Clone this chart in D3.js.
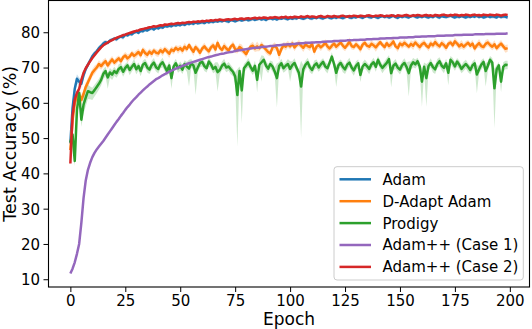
<!DOCTYPE html>
<html><head><meta charset="utf-8">
<script src="https://cdn.jsdelivr.net/npm/d3@7"></script>
<style>
html,body{margin:0;padding:0;background:#fff;}
svg{display:block;font-family:"DejaVu Sans",sans-serif;}
</style></head>
<body>
<svg id="chart" width="532" height="329"></svg>
<script>
const seriesNames = ["Adam","D-Adapt Adam","Prodigy","Adam++ (Case 1)","Adam++ (Case 2)"];
const xTicks = [0,25,50,75,100,125,150,175,200];
const yTicks = [10,20,30,40,50,60,70,80];

const adam = [
48.5,58.5,64.0,66.8,66.0,65.4,67.8,69.6,70.8,72.0,73.2,74.0,74.6,75.5,76.1,76.8,77.2,77.0,77.6,77.9,
78.2,78.0,78.5,78.8,78.6,79.3,79.1,79.6,79.4,79.9,80.2,79.8,80.4,80.3,80.7,80.5,80.9,81.2,80.8,81.3,
81.1,81.5,81.3,81.8,81.6,81.9,81.7,82.1,81.9,82.2,82.0,82.3,82.1,82.5,82.3,82.6,82.4,82.8,82.5,82.7,
82.9,82.6,83.0,82.8,83.1,82.9,83.2,83.0,83.3,83.1,83.4,83.2,83.0,83.5,83.3,83.1,83.4,83.6,83.3,83.5,
83.7,83.4,83.6,83.8,83.5,83.7,83.9,83.6,83.8,83.5,83.9,84.0,83.7,83.9,83.6,84.0,83.8,84.1,83.9,83.7,
84.0,83.8,84.1,83.9,84.2,84.0,83.8,84.1,84.3,84.0,83.9,84.2,84.0,84.3,84.1,83.9,84.2,84.4,84.1,84.0,
84.3,84.1,84.4,84.2,84.0,84.3,84.5,84.2,84.1,84.4,84.2,84.5,84.3,84.1,84.4,84.6,84.3,84.2,84.5,84.3,
84.1,84.4,84.6,84.3,84.5,84.2,84.4,84.7,84.3,84.1,84.5,84.3,84.6,84.4,84.2,84.5,84.7,84.4,84.2,84.5,
84.3,84.6,84.4,84.2,84.5,84.3,84.7,84.4,84.2,84.6,84.4,84.3,84.5,84.7,84.4,84.2,84.5,84.3,84.6,84.4,
84.2,84.5,84.3,84.6,84.4,84.7,84.3,84.5,84.2,84.4,84.6,84.3,84.5,84.4,84.2,84.6,84.3,84.5,84.4,84.2];
const adamSd = [
1.5,2.0,1.6,1.3,1.2,1.1,1.0,0.9,0.9,0.8,0.8,0.7,0.7,0.7,0.6,0.7,0.6,0.6,0.6,0.5,
.5,.6,.4,.5,.7,.5,.4,.6,.5,.5,.6,.4,.5,.6,.5,.4,.5,.6,.5,.4,
.5,.6,.5,.4,.5,.6,.4,.5,.5,.6,.5,.4,.6,.5,.4,.5,.6,.5,.4,.5,
.6,.5,.4,.5,.6,.5,.5,.4,.6,.5,.4,.5,.6,.5,.4,.5,.5,.6,.4,.5,
.5,.4,.6,.5,.5,.4,.6,.5,.4,.5,.6,.5,.4,.5,.5,.6,.4,.5,.6,.5,
.4,.5,.6,.5,.4,.5,.5,.6,.4,.5,.6,.5,.4,.5,.6,.5,.5,.4,.6,.5,
.5,.6,.4,.5,.5,.6,.4,.5,.6,.5,.4,.5,.5,.6,.4,.5,.6,.5,.4,.5,
.6,.5,.4,.5,.6,.5,.4,.5,.5,.6,.4,.5,.6,.5,.5,.4,.6,.5,.4,.5,
.5,.4,.6,.5,.5,.6,.4,.5,.6,.5,.4,.5,.5,.6,.4,.5,.6,.5,.4,.5,
.5,.6,.4,.5,.6,.5,.4,.5,.5,.6,.4,.5,.6,.5,.4,.5,.5,.6,.4,.5];

const dadapt = [
46.6,55.0,60.0,62.0,62.3,60.8,62.5,64.5,65.8,67.2,68.5,69.3,70.0,71.0,70.4,71.2,71.8,70.6,71.5,72.3,
71.4,72.0,72.6,71.8,72.9,73.4,72.6,73.1,74.0,73.3,73.8,74.4,73.5,75.0,74.1,73.6,74.5,73.9,74.8,74.2,
74.0,74.9,74.3,75.2,74.6,73.9,75.1,74.7,75.6,75.0,75.5,74.8,75.9,75.2,76.4,75.3,74.5,75.8,75.1,74.2,
75.4,76.0,75.2,74.6,75.7,76.3,75.1,77.0,75.6,75.0,76.1,75.4,74.8,75.9,76.5,75.2,74.9,75.8,75.3,74.5,
73.8,75.0,75.9,76.2,75.4,76.0,75.5,76.4,75.8,75.1,74.4,74.0,75.7,76.1,75.5,73.6,75.2,76.3,75.9,76.6,
76.0,76.8,75.7,76.4,76.9,76.2,75.6,76.5,76.1,75.8,76.7,74.5,75.9,76.4,75.7,76.3,77.0,76.0,75.4,76.2,
76.8,75.9,76.5,77.1,76.2,75.6,76.4,77.3,76.1,75.8,76.6,76.0,75.2,76.5,77.0,76.2,75.9,76.7,76.3,75.7,
76.5,77.2,76.4,75.8,76.9,76.1,76.6,77.4,76.0,75.5,76.8,76.3,77.0,76.5,75.9,76.7,76.2,77.1,76.4,75.8,
76.6,77.0,76.2,75.7,76.8,76.3,77.2,76.5,76.0,76.9,76.4,75.6,76.7,77.1,76.3,77.4,76.8,76.0,76.6,75.9,
76.5,77.0,76.2,76.8,75.4,76.3,76.9,76.1,75.8,76.7,77.1,76.4,75.9,76.6,75.5,76.2,76.8,76.0,75.3,75.5];
const dadaptSd = [
1.5,2.2,1.8,1.5,1.6,1.4,1.3,1.3,1.2,1.2,1.1,1.2,1.0,1.1,1.0,1.1,1.0,1.0,1.1,1.0,
.9,1.0,.8,1.1,.9,1.0,1.2,.9,.8,1.0,1.1,.9,1.0,.8,1.2,1.0,.9,1.1,.8,1.0,
1.0,.9,1.1,.8,1.0,1.2,.9,1.0,.8,1.1,.9,1.0,1.1,.9,.8,1.0,1.2,.9,1.0,1.1,
.9,1.0,.8,1.1,1.0,.9,1.2,1.0,.8,.9,1.1,1.0,.9,.8,1.0,1.1,.9,1.0,1.2,.9,
1.0,.8,.9,1.1,1.0,1.4,.9,1.0,.8,1.1,1.0,.9,1.0,1.1,.8,1.6,1.0,.9,1.1,1.0,
.9,1.0,1.1,.8,1.0,.9,1.2,1.0,.9,1.1,.8,1.0,.9,1.1,1.0,.8,1.0,1.2,.9,1.0,
1.1,.9,1.0,.8,1.1,1.0,.9,1.2,1.0,.8,1.0,.9,1.1,1.0,.9,.8,1.1,1.0,.9,1.2,
1.0,.9,.8,1.1,1.0,.9,1.2,1.0,.8,1.1,.9,1.0,1.1,.9,.8,1.0,1.2,.9,1.0,1.1,
.9,1.0,.8,1.1,1.0,.9,1.2,1.0,.8,.9,1.1,1.0,.9,.8,1.0,1.1,.9,1.0,1.2,.9,
1.0,.8,.9,1.1,1.0,.9,1.2,1.0,.8,1.1,1.0,.9,1.0,1.1,.8,1.0,1.0,.9,1.1,1.0];

const prodigy = [
48.8,51.0,43.5,58.0,62.8,55.2,59.5,61.5,63.3,63.0,62.8,63.6,64.5,65.4,66.5,68.2,69.0,67.2,68.6,68.0,
69.0,68.4,69.6,70.1,68.8,69.9,70.6,69.3,70.2,71.0,69.5,70.4,69.0,70.8,71.3,70.0,69.4,70.7,71.4,70.1,
69.6,70.9,71.5,70.2,69.0,70.6,67.0,70.3,71.2,69.8,70.5,69.4,71.0,70.3,69.7,71.2,70.6,68.5,70.0,71.3,
71.6,70.4,69.8,71.7,70.9,69.6,70.2,68.7,69.3,70.5,71.1,70.0,70.3,69.5,68.8,67.5,62.2,69.0,63.5,69.8,
70.6,71.4,70.2,69.1,70.5,66.5,70.8,71.5,72.2,70.6,69.7,71.0,70.3,68.9,67.0,70.4,71.2,69.8,70.5,71.0,
69.6,70.7,71.3,69.9,68.5,64.6,69.5,70.8,71.5,70.1,69.3,70.6,71.2,70.0,70.9,71.6,70.3,69.8,71.4,73.1,
71.0,68.5,70.6,71.3,70.2,69.5,70.8,71.4,70.0,69.2,70.5,71.2,67.9,70.3,71.0,70.4,69.6,70.9,71.5,70.2,
72.2,70.8,69.9,70.6,71.3,72.4,68.4,70.5,71.1,70.0,69.4,70.7,71.3,70.2,68.4,70.6,71.5,70.9,71.8,70.3,
66.0,70.2,67.0,70.4,71.3,70.1,69.5,71.0,71.8,70.5,69.9,71.2,68.5,72.2,71.5,70.3,71.7,70.8,69.6,70.4,
71.0,70.2,69.3,70.6,71.2,68.0,69.5,70.8,71.6,69.0,70.5,72.2,71.4,64.1,69.5,70.6,66.0,70.2,70.8,70.7];
const prodigyLowDev = [
1.5,2.5,1.5,2.5,2.0,2.0,2.5,2.5,2.2,2.0,2.0,1.8,1.8,1.6,1.6,1.5,1.5,3.2,1.5,1.5,
1.4,1.3,1.5,1.2,1.4,1.3,1.2,1.5,1.3,1.2,1.4,1.3,1.5,1.2,1.3,1.4,1.2,1.3,1.5,1.2,
1.3,1.2,1.4,1.3,1.5,1.2,3.0,1.4,1.2,1.3,1.4,1.2,1.3,1.5,5.1,1.2,1.4,6.3,1.3,1.2,
1.3,1.4,1.2,1.5,1.3,1.2,1.4,5.5,1.3,1.2,1.5,1.3,1.2,1.4,1.3,2.0,14.6,1.5,9.3,1.3,
1.2,1.3,1.4,1.2,1.5,3.5,1.3,5.5,1.2,1.4,1.3,1.2,1.5,1.3,8.3,1.2,1.4,1.3,1.5,1.2,
3.6,1.3,1.2,1.4,1.3,14.6,1.2,1.5,1.3,1.4,1.2,1.3,1.5,1.2,1.4,1.3,1.2,1.5,1.3,1.2,
1.4,4.0,1.3,1.2,1.5,1.3,1.4,1.2,1.3,1.5,1.2,1.4,2.0,1.3,1.2,1.4,1.5,1.3,1.2,1.4,
1.3,1.2,1.5,1.3,1.4,1.2,4.0,1.3,1.5,1.2,1.4,1.3,1.2,1.5,6.6,1.3,1.4,1.2,1.3,1.5,
7.1,1.3,8.1,1.4,1.2,1.5,1.3,1.2,1.4,1.3,1.5,1.2,3.5,1.3,1.4,1.2,1.5,1.3,1.2,1.4,
1.3,1.5,1.2,1.4,1.3,5.3,1.2,1.4,1.3,4.4,1.5,1.2,1.4,11.3,1.3,1.2,3.0,1.4,1.3,1.2];
const prodigyHighDev = [
1.5,2.0,2.0,2.0,1.8,1.8,2.5,2.0,1.8,1.6,1.5,1.5,1.5,1.4,1.5,1.3,1.3,1.2,1.3,1.2,
1.2,1.0,1.3,1.1,1.4,1.2,1.0,1.3,1.1,1.5,1.2,1.0,1.3,1.1,1.2,1.4,1.0,1.2,1.3,1.1,
1.2,1.1,1.3,1.0,1.4,1.2,1.5,1.1,1.3,1.0,1.2,1.4,1.1,1.3,2.5,1.2,1.0,3.0,1.3,1.1,
1.2,1.3,1.1,1.4,1.0,1.2,1.3,2.8,1.1,1.2,1.4,1.0,1.3,1.2,1.1,1.2,7.3,1.3,4.7,1.2,
1.1,1.3,1.2,1.0,1.4,1.8,1.2,2.0,1.1,1.3,1.2,1.0,1.4,1.2,4.2,1.1,1.3,1.2,1.0,1.4,
2.2,1.1,1.3,1.2,1.0,7.3,1.2,1.1,1.3,1.2,1.0,1.4,1.1,1.3,1.2,1.0,1.3,1.2,1.1,1.2,
1.1,2.0,1.2,1.0,1.3,1.2,1.1,1.4,1.0,1.2,1.3,1.1,1.0,1.2,1.3,1.1,1.2,1.0,1.3,1.2,
1.1,1.3,1.0,1.2,1.4,1.1,2.0,1.2,1.3,1.0,1.2,1.1,1.3,1.2,3.3,1.1,1.2,1.4,1.0,1.2,
3.5,1.2,4.0,1.1,1.3,1.0,1.2,1.4,1.1,1.2,1.0,1.3,1.7,1.1,1.2,1.3,1.0,1.2,1.1,1.3,
1.2,1.0,1.3,1.1,1.2,2.6,1.1,1.3,1.0,2.2,1.2,1.1,1.3,5.6,1.2,1.0,1.5,1.3,1.1,1.2];

const adamppCase1 = [
11.6,13.0,14.8,17.2,20.0,26.0,33.0,38.0,41.0,43.0,44.6,45.8,46.8,47.6,48.4,49.2,50.1,51.0,51.9,52.8,
53.7,54.6,55.4,56.3,57.1,58.0,58.8,59.5,60.3,61.0,61.6,62.3,62.9,63.5,64.1,64.6,65.2,65.7,66.2,66.7,
67.0,67.4,67.8,68.1,68.5,68.8,69.1,69.4,69.7,70.0,70.2,70.5,70.7,71.0,71.2,71.4,71.6,71.8,72.0,72.2,
72.4,72.6,72.8,73.0,73.1,73.3,73.5,73.6,73.8,73.9,74.0,74.2,74.3,74.4,74.5,74.7,74.8,74.9,75.0,75.1,
75.2,75.3,75.4,75.5,75.6,75.6,75.7,75.8,75.9,75.9,76.0,76.1,76.1,76.2,76.3,76.3,76.4,76.5,76.5,76.6,
76.6,76.7,76.7,76.8,76.8,76.9,76.9,77.0,77.0,77.0,77.1,77.1,77.2,77.2,77.2,77.3,77.3,77.4,77.4,77.4,
77.5,77.5,77.5,77.6,77.6,77.6,77.7,77.7,77.7,77.8,77.8,77.8,77.9,77.9,77.9,78.0,78.0,78.0,78.1,78.1,
78.1,78.2,78.2,78.2,78.3,78.3,78.3,78.4,78.4,78.4,78.5,78.5,78.5,78.5,78.6,78.6,78.6,78.7,78.7,78.7,
78.8,78.8,78.8,78.9,78.9,78.9,78.9,79.0,79.0,79.0,79.0,79.1,79.1,79.1,79.1,79.2,79.2,79.2,79.2,79.3,
79.3,79.3,79.3,79.3,79.4,79.4,79.4,79.4,79.4,79.5,79.5,79.5,79.5,79.5,79.6,79.6,79.6,79.6,79.6,79.7];

const adamppCase2 = [
42.8,56.5,61.0,62.8,64.0,66.5,68.5,69.8,70.8,71.8,72.7,73.5,74.3,75.0,75.7,76.3,76.7,77.1,77.5,77.8,
78.1,78.4,78.7,78.9,79.2,79.3,79.6,79.8,80.0,80.2,80.4,80.5,80.8,80.9,81.1,81.2,81.4,81.5,81.7,81.6,
81.8,82.0,81.9,82.2,82.1,82.3,82.4,82.3,82.5,82.6,82.5,82.7,82.6,82.8,82.9,82.8,83.0,82.9,83.1,83.0,
83.2,83.1,83.3,83.2,83.4,83.3,83.5,83.4,83.6,83.5,83.4,83.6,83.7,83.5,83.7,83.8,83.6,83.8,83.9,83.7,
83.9,84.0,83.8,84.0,84.1,83.9,84.1,84.0,84.2,84.1,83.9,84.2,84.1,84.3,84.2,84.0,84.3,84.2,84.4,84.1,
84.3,84.2,84.4,84.3,84.2,84.5,84.3,84.4,84.6,84.3,84.5,84.4,84.2,84.5,84.6,84.4,84.3,84.6,84.5,84.4,
84.6,84.5,84.3,84.6,84.7,84.5,84.4,84.6,84.5,84.7,84.6,84.4,84.7,84.6,84.5,84.7,84.8,84.6,84.5,84.7,
84.6,84.8,84.7,84.5,84.7,84.6,84.8,84.7,84.5,84.8,84.7,84.6,84.8,84.9,84.7,84.6,84.8,84.7,84.9,84.8,
84.6,84.8,84.9,84.7,84.8,84.6,84.9,84.8,84.7,84.9,85.0,84.8,84.7,84.9,84.8,85.0,84.9,84.7,84.9,84.8,
85.0,84.9,84.7,84.9,85.0,84.8,84.9,84.7,85.0,84.9,84.8,85.0,84.9,84.8,85.0,84.9,84.7,84.9,85.0,84.9];
const adamppCase2Sd = [
0.6,1.0,0.9,0.8,0.7,0.6,0.6,0.5,0.5,0.5,0.4,0.4,0.4,0.4,0.4,0.4,0.3,0.3,0.3,0.3,
.3,.4,.3,.3,.4,.3,.2,.3,.4,.3,.3,.4,.3,.2,.3,.4,.3,.3,.4,.3,
.3,.3,.4,.3,.2,.3,.4,.3,.3,.4,.3,.2,.3,.4,.3,.3,.4,.3,.3,.2,
.4,.3,.3,.4,.3,.2,.3,.4,.3,.3,.4,.3,.2,.3,.4,.3,.3,.4,.3,.3,
.3,.4,.3,.2,.3,.4,.3,.3,.4,.3,.2,.3,.4,.3,.3,.4,.3,.2,.3,.4,
.3,.3,.4,.3,.2,.3,.4,.3,.3,.4,.3,.3,.2,.3,.4,.3,.3,.4,.3,.2,
.4,.3,.3,.2,.3,.4,.3,.3,.4,.3,.2,.3,.4,.3,.3,.4,.3,.2,.3,.4,
.3,.4,.3,.3,.2,.3,.4,.3,.3,.4,.3,.2,.3,.4,.3,.3,.4,.3,.2,.3,
.3,.3,.4,.3,.2,.3,.4,.3,.3,.4,.3,.2,.3,.4,.3,.3,.4,.3,.3,.2,
.4,.3,.3,.4,.3,.2,.3,.4,.3,.3,.4,.3,.2,.3,.4,.3,.3,.4,.3,.3];

const colors = ["#1f77b4","#ff7f0e","#2ca02c","#9467bd","#d62728"];

const all = [adam,adamSd,dadapt,dadaptSd,prodigy,prodigyLowDev,prodigyHighDev,adamppCase1,adamppCase2,adamppCase2Sd];
all.forEach((a,i)=>{ if(a.length!==200) throw new Error("array "+i+" has length "+a.length); });

const epochs = d3.range(200);
const series = [
  {name:seriesNames[0], color:colors[0], mean:adam, lo:adamSd, hi:adamSd},
  {name:seriesNames[1], color:colors[1], mean:dadapt, lo:dadaptSd, hi:dadaptSd},
  {name:seriesNames[2], color:colors[2], mean:prodigy, lo:prodigyLowDev, hi:prodigyHighDev},
  {name:seriesNames[3], color:colors[3], mean:adamppCase1, lo:null, hi:null},
  {name:seriesNames[4], color:colors[4], mean:adamppCase2, lo:adamppCase2Sd, hi:adamppCase2Sd}
];

const svg = d3.select("#chart");
const L = 48.5, R = 529.5, T = 0.5, B = 287;
const x = d3.scaleLinear().domain([-9.95, 208.95]).range([L, R]);
const y = d3.scaleLinear().domain([7.8, 89.0]).range([B, T]);

const plot = svg.append("g");
const clipId = "clipplot";
svg.append("defs").append("clipPath").attr("id", clipId)
  .append("rect").attr("x", L).attr("y", T).attr("width", R-L).attr("height", B-T);
plot.attr("clip-path", `url(#${clipId})`);

series.forEach(s => {
  if (s.lo) {
    const area = d3.area()
      .x((d,i)=>x(epochs[i]))
      .y0((d,i)=>y(s.mean[i]-s.lo[i]))
      .y1((d,i)=>y(s.mean[i]+s.hi[i]));
    plot.append("path").datum(s.mean).attr("d", area)
      .attr("fill", s.color).attr("fill-opacity", 0.24).attr("stroke","none");
  }
  const line = d3.line().x((d,i)=>x(epochs[i])).y(d=>y(d));
  plot.append("path").datum(s.mean).attr("d", line)
    .attr("fill","none").attr("stroke", s.color).attr("stroke-width", 2.5)
    .attr("stroke-linejoin","round").attr("stroke-linecap","butt");
});

// axes
const xAxis = d3.axisBottom(x).tickValues(xTicks).tickSize(5).tickPadding(5).tickFormat(d3.format("d"));
const gx = svg.append("g").attr("transform", `translate(0,${B})`).call(xAxis);
gx.select(".domain").remove();
gx.selectAll("line").attr("stroke","#000").attr("stroke-width",1);
gx.selectAll("text").attr("font-size","15px").attr("fill","#000")
  .attr("font-family","DejaVu Sans").attr("dy",null).attr("y",19.3);

const yAxis = d3.axisLeft(y).tickValues(yTicks).tickSize(5).tickPadding(5).tickFormat(d3.format("d"));
const gy = svg.append("g").attr("transform", `translate(${L},0)`).call(yAxis);
gy.select(".domain").remove();
gy.selectAll("line").attr("stroke","#000").attr("stroke-width",1);
gy.selectAll("text").attr("font-size","15px").attr("fill","#000")
  .attr("font-family","DejaVu Sans").attr("dy",null).attr("y",5.4).attr("x",-8.5);

// spines
svg.append("rect").attr("x",L).attr("y",T).attr("width",R-L).attr("height",B-T)
  .attr("fill","none").attr("stroke","#000").attr("stroke-width",1.1);

// axis labels
svg.append("text").attr("x",(L+R)/2).attr("y",325.3).attr("text-anchor","middle")
  .attr("font-size","17px").attr("fill","#000").text("Epoch");
svg.append("text").attr("transform",`translate(16,${(T+B)/2}) rotate(-90)`)
  .attr("text-anchor","middle").attr("font-size","17.5px").attr("fill","#000").text("Test Accuracy (%)");

// legend
const lg = svg.append("g");
lg.append("rect").attr("x",334).attr("y",166.7).attr("width",189.3).attr("height",113.3)
  .attr("rx",3).attr("fill","#fff").attr("fill-opacity",0.8).attr("stroke","#cccccc").attr("stroke-width",1);
series.forEach((s,i)=>{
  const yy = 179.3 + i*21.9;
  lg.append("line").attr("x1",339.5).attr("x2",371).attr("y1",yy).attr("y2",yy)
    .attr("stroke",s.color).attr("stroke-width",2.5);
  lg.append("text").attr("x",382.5).attr("y",yy+5.4).attr("font-size","15px").attr("fill","#000").text(s.name);
});
</script>
</body></html>
